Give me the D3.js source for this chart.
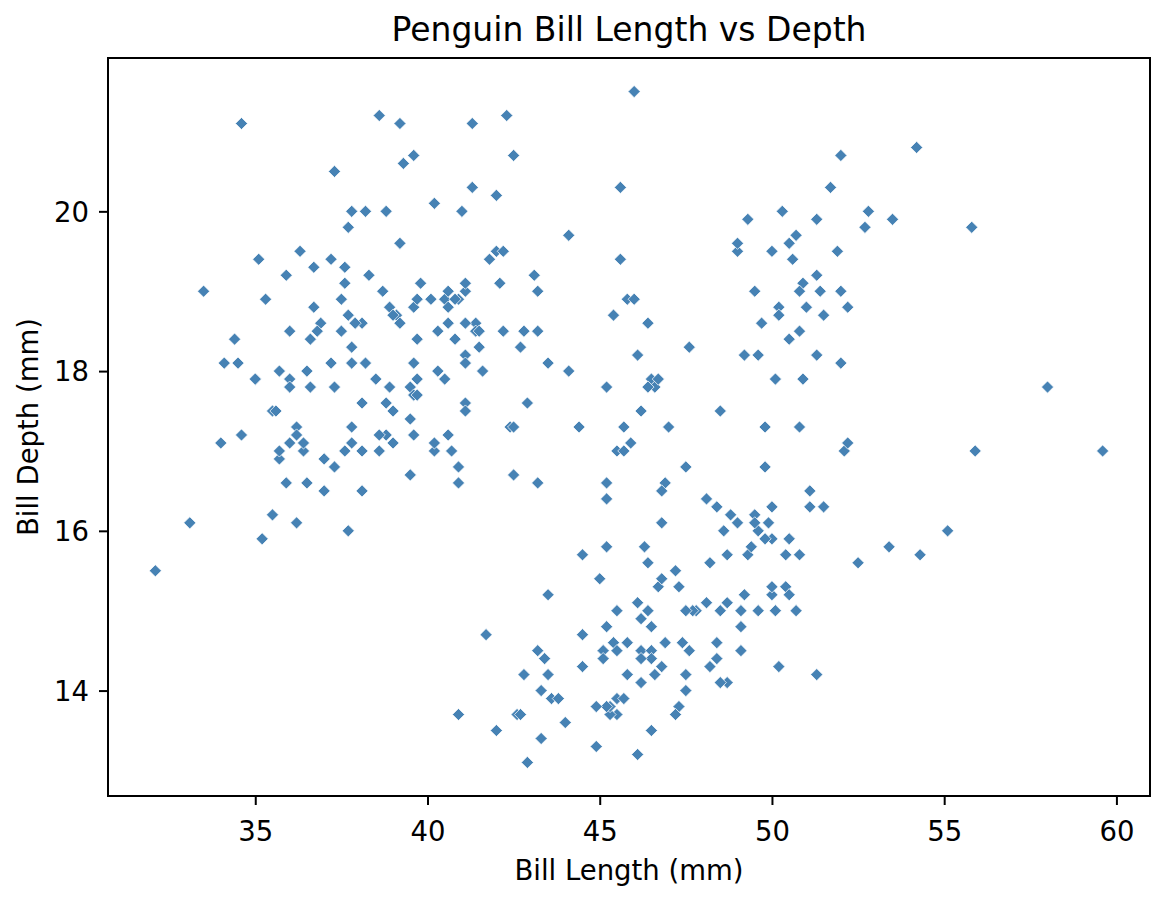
<!DOCTYPE html>
<html>
<head>
<meta charset="utf-8">
<script src="https://cdn.jsdelivr.net/npm/d3@7"></script>
<style>
  html, body { margin: 0; padding: 0; background: #fff; }
  text { font-family: "DejaVu Sans", sans-serif; fill: #000; }
</style>
</head>
<body>
<div id="chart"></div>
<script>
// bill length / depth per species (all drawn in one colour)
var adelieLength = [39.1,39.5,40.3,36.7,39.3,38.9,39.2,34.1,42.0,37.8,37.8,41.1,38.6,34.6,36.6,38.7,42.5,34.4,46.0,37.8,37.7,35.9,38.2,38.8,35.3,40.6,40.5,37.9,40.5,39.5,37.2,39.5,40.9,36.4,39.2,38.8,42.2,37.6,39.8,36.5,40.8,36.0,44.1,37.0,39.6,41.1,37.5,36.0,42.3,39.6,40.1,35.0,42.0,34.5,41.4,39.0,40.6,36.5,37.6,35.7,41.3,37.6,41.1,36.4,41.6,35.5,41.1,35.9,41.8,33.5,39.7,39.6,45.8,35.5,42.8,40.9,37.2,36.2,42.1,34.6,42.9,36.7,35.1,37.3,41.3,36.3,36.9,38.3,38.9,35.7,41.1,34.0,39.6,36.2,40.8,38.1,40.3,33.1,43.2,35.0,41.0,37.7,37.8,37.9,39.7,38.6,38.2,38.1,43.2,38.1,45.6,39.7,42.2,39.6,42.7,38.6,37.3,35.7,41.1,36.2,37.7,40.2,41.4,35.2,40.6,38.8,41.5,39.0,44.1,38.5,43.1,36.8,37.5,38.1,41.1,35.6,40.2,37.0,39.7,40.2,40.6,32.1,40.7,37.3,39.0,39.2,36.6,36.0,37.8,36.0,41.5];
var adelieDepth = [18.7,17.4,18.0,19.3,20.6,17.8,19.6,18.1,20.2,17.1,17.3,17.6,21.2,21.1,17.8,19.0,20.7,18.4,21.5,18.3,18.7,19.2,18.1,17.2,18.9,18.6,17.9,18.6,18.9,16.7,18.1,17.8,18.9,17.0,21.1,20.0,18.5,19.3,19.1,18.0,18.4,18.5,19.7,16.9,18.8,19.0,18.9,17.9,21.2,17.7,18.9,17.9,19.5,18.1,18.6,17.5,18.8,16.6,19.1,16.9,21.1,17.0,18.2,17.1,18.0,16.2,19.1,16.6,19.4,19.0,18.4,17.2,18.9,17.5,18.5,16.8,19.4,16.1,19.1,17.2,17.6,18.8,19.4,17.8,20.3,19.5,18.6,19.2,18.8,18.0,18.1,17.1,18.1,17.3,18.9,18.6,18.5,16.1,18.5,17.9,20.0,16.0,20.0,18.6,18.9,17.2,20.0,17.0,19.0,16.5,20.3,17.7,19.5,20.7,18.3,17.0,20.5,17.0,18.6,17.2,19.8,17.0,18.5,15.9,19.0,17.6,18.3,17.1,18.0,17.9,19.2,18.5,18.5,17.6,17.5,17.5,20.1,16.5,17.9,17.1,17.2,15.5,17.0,16.8,18.7,18.6,18.4,17.8,18.1,17.1,18.5];

var gentooLength = [46.1,50.0,48.7,50.0,47.6,46.5,45.4,46.7,43.3,46.8,40.9,49.0,45.5,48.4,45.8,49.3,42.0,49.2,46.2,48.7,50.2,45.1,46.5,46.3,42.9,46.1,44.5,47.8,48.2,50.0,47.3,42.8,45.1,59.6,49.1,48.4,42.6,44.4,44.0,48.7,42.7,49.6,45.3,49.6,50.5,43.6,45.5,50.5,44.9,45.2,46.6,48.5,45.1,50.1,46.5,45.0,43.8,45.5,43.2,50.4,45.3,46.2,45.7,54.3,45.8,49.8,46.2,49.5,43.5,50.7,47.7,46.4,48.2,46.5,46.4,48.6,47.5,51.1,45.2,45.2,49.1,52.5,47.4,50.0,44.9,50.8,43.4,51.3,47.5,52.1,47.5,52.2,45.5,49.5,44.5,50.8,49.4,46.9,48.4,51.1,48.5,55.9,47.2,49.1,47.3,46.8,41.7,53.4,43.3,48.1,50.5,49.8,43.5,51.5,46.2,55.1,44.5,48.8,47.2,46.8,50.4,45.2,49.9];
var gentooDepth = [13.2,16.3,14.1,15.2,14.5,13.5,14.6,15.3,13.4,15.4,13.7,16.1,13.7,14.6,14.6,15.7,13.5,15.2,14.5,15.1,14.3,14.5,14.5,15.8,13.1,15.1,14.3,15.0,14.3,15.3,15.3,14.2,14.5,17.0,14.8,16.3,13.7,17.3,13.6,15.7,13.7,16.0,13.7,15.0,15.9,13.9,13.9,15.9,13.3,15.8,14.2,14.1,14.4,15.0,14.4,15.4,13.9,15.0,14.5,15.3,13.8,14.9,13.9,15.7,14.2,16.8,14.4,16.2,14.2,15.0,15.0,15.6,15.6,14.8,15.0,16.0,14.2,16.3,13.8,16.4,14.5,15.6,14.6,15.9,13.8,17.3,14.4,14.2,14.0,17.0,15.0,17.1,14.5,16.1,14.7,15.7,15.8,14.6,14.4,16.5,15.0,17.0,15.5,15.0,13.8,16.1,14.7,15.8,14.0,15.1,15.2,15.9,15.2,16.3,14.1,16.0,15.7,16.2,13.7,14.3,15.7,14.8,16.1];

var chinstrapLength = [46.5,50.0,51.3,45.4,52.7,45.2,46.1,51.3,46.0,51.3,46.6,51.7,47.0,52.0,45.9,50.5,50.3,58.0,46.4,49.2,42.4,48.5,43.2,50.6,46.7,52.0,50.5,49.5,46.4,52.8,40.9,54.2,42.5,51.0,49.7,47.5,47.6,52.0,46.9,53.5,49.0,46.2,50.9,45.5,50.9,50.8,50.1,49.0,51.5,49.8,48.1,51.4,45.7,50.7,42.5,52.2,45.2,49.3,50.2,45.6,51.9,46.8,45.7,55.8,43.5,49.6,50.8,50.2];
var chinstrapDepth = [17.9,19.5,19.2,18.7,19.8,17.8,18.2,18.2,18.9,19.9,17.8,20.3,17.3,18.1,17.1,19.6,20.0,17.8,18.6,18.2,17.3,17.5,16.6,19.4,17.9,19.0,18.4,19.0,17.8,20.0,16.6,20.8,16.7,18.8,18.6,16.8,18.3,20.7,16.6,19.9,19.5,17.5,19.1,17.0,17.9,18.5,17.9,19.6,18.7,17.3,16.4,19.0,17.3,19.7,17.3,18.8,16.6,19.9,18.8,19.4,19.5,16.5,17.0,19.8,18.1,18.2,19.0,18.7];

var xTicks = [35, 40, 45, 50, 55, 60];
var yTicks = [14, 16, 18, 20];

var chartTitle = "Penguin Bill Length vs Depth";
var xTitle = "Bill Length (mm)";
var yTitle = "Bill Depth (mm)";

var width = 1169, height = 898;
var plotLeft = 108, plotRight = 1150, plotTop = 58, plotBottom = 796;

// one list of points, in dataset order
var points = [];
adelieLength.forEach(function (v, i) { points.push([v, adelieDepth[i]]); });
gentooLength.forEach(function (v, i) { points.push([v, gentooDepth[i]]); });
chinstrapLength.forEach(function (v, i) { points.push([v, chinstrapDepth[i]]); });

// matplotlib style 5% margins
var xExt = d3.extent(points, function (d) { return d[0]; });
var yExt = d3.extent(points, function (d) { return d[1]; });
var xPad = (xExt[1] - xExt[0]) * 0.05;
var yPad = (yExt[1] - yExt[0]) * 0.05;

var x = d3.scaleLinear().domain([xExt[0] - xPad, xExt[1] + xPad]).range([plotLeft, plotRight]);
var y = d3.scaleLinear().domain([yExt[0] - yPad, yExt[1] + yPad]).range([plotBottom, plotTop]);

var svg = d3.select("#chart").append("svg")
  .attr("width", width)
  .attr("height", height);

svg.append("rect")
  .attr("width", width).attr("height", height)
  .attr("fill", "#fff");

var diamond = d3.symbol().type(d3.symbolSquare).size(74);

svg.append("g")
  .selectAll("path")
  .data(points)
  .enter().append("path")
  .attr("d", diamond)
  .attr("transform", function (d) {
    return "translate(" + x(d[0]) + "," + y(d[1]) + ")rotate(45)";
  })
  .attr("fill", "#4682b4")
  .attr("stroke", "#fff")
  .attr("stroke-width", 0.7);

// frame
svg.append("rect")
  .attr("x", plotLeft).attr("y", plotTop)
  .attr("width", plotRight - plotLeft).attr("height", plotBottom - plotTop)
  .attr("fill", "none")
  .attr("stroke", "#000")
  .attr("stroke-width", 2);

var xAxis = svg.append("g")
  .attr("transform", "translate(0," + plotBottom + ")")
  .call(d3.axisBottom(x).tickValues(xTicks).tickSize(9).tickPadding(10).tickFormat(d3.format("d")));
xAxis.select(".domain").remove();
xAxis.selectAll("line").attr("stroke", "#000").attr("stroke-width", 2);
xAxis.selectAll("text")
  .attr("y", 19).attr("dy", "0.95em")
  .style("font-size", "27.5px")
  .style("font-family", "DejaVu Sans");

var yAxis = svg.append("g")
  .attr("transform", "translate(" + plotLeft + ",0)")
  .call(d3.axisLeft(y).tickValues(yTicks).tickSize(9).tickPadding(10).tickFormat(d3.format("d")));
yAxis.select(".domain").remove();
yAxis.selectAll("line").attr("stroke", "#000").attr("stroke-width", 2);
yAxis.selectAll("text")
  .attr("dy", "0.36em")
  .style("font-size", "27.5px")
  .style("font-family", "DejaVu Sans");

svg.append("text")
  .attr("x", (plotLeft + plotRight) / 2).attr("y", 41)
  .attr("text-anchor", "middle")
  .style("font-size", "33px")
  .text(chartTitle);

svg.append("text")
  .attr("x", (plotLeft + plotRight) / 2).attr("y", 880)
  .attr("text-anchor", "middle")
  .style("font-size", "27.5px")
  .text(xTitle);

svg.append("text")
  .attr("transform", "translate(38," + (plotTop + plotBottom) / 2 + ")rotate(-90)")
  .attr("text-anchor", "middle")
  .style("font-size", "27.5px")
  .text(yTitle);
</script>
</body>
</html>
